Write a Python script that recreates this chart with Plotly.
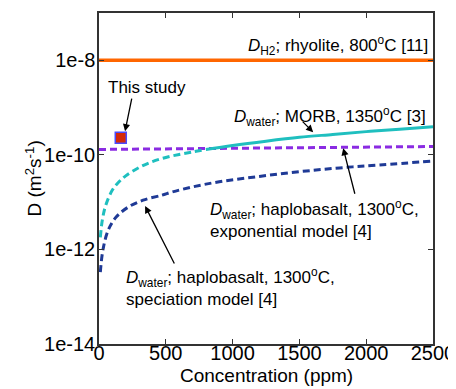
import plotly.graph_objects as go

# ---- data ----
h2_conc = [0, 2500]
h2_D = [1.0e-8, 1.0e-8]

morb_conc_dash = [10, 25, 50, 100, 150, 200, 300, 400, 500, 600, 700, 800]
morb_D_dash = [1.8e-12, 4.2e-12, 8.5e-12, 1.8e-11, 2.7e-11, 3.6e-11, 5.4e-11, 7.2e-11,
               8.8e-11, 1.02e-10, 1.15e-10, 1.3e-10]
morb_conc_solid = [800, 1000, 1250, 1500, 1750, 2000, 2250, 2500]
morb_D_solid = [1.3e-10, 1.58e-10, 1.95e-10, 2.35e-10, 2.7e-10, 3.1e-10, 3.5e-10, 3.95e-10]

expo_conc = [0, 500, 1000, 1500, 2000, 2500]
expo_D = [1.30e-10, 1.34e-10, 1.38e-10, 1.42e-10, 1.46e-10, 1.50e-10]

spec_conc = [10, 30, 70, 130, 220, 330, 470, 550, 700, 900, 1200, 1500, 1800, 2100, 2500]
spec_D = [3.3e-13, 1.0e-12, 2.6e-12, 4.9e-12, 7.9e-12, 1.1e-11, 1.4e-11, 1.65e-11,
          2.1e-11, 2.7e-11, 3.5e-11, 4.4e-11, 5.3e-11, 6.1e-11, 7.4e-11]

study_conc = [163]
study_D = [2.3e-10]

x_ticks = [0, 500, 1000, 1500, 2000, 2500]
y_tickvals = [1e-14, 1e-12, 1e-10, 1e-8]
y_ticktext = ["1e-14", "1e-12", "1e-10", "1e-8"]

FONT = "Arial, Liberation Sans, sans-serif"

fig = go.Figure()
fig.add_trace(go.Scatter(x=h2_conc, y=h2_D, mode="lines",
                         line=dict(color="#ff6600", width=3.5)))
fig.add_trace(go.Scatter(x=expo_conc, y=expo_D, mode="lines",
                         line=dict(color="#8a2be2", width=3, dash="7px,4px")))
fig.add_trace(go.Scatter(x=morb_conc_dash, y=morb_D_dash, mode="lines",
                         line=dict(color="#1fbfbf", width=3, dash="7px,4px", shape="spline")))
fig.add_trace(go.Scatter(x=morb_conc_solid, y=morb_D_solid, mode="lines",
                         line=dict(color="#1fbfbf", width=3, shape="spline")))
fig.add_trace(go.Scatter(x=spec_conc, y=spec_D, mode="lines",
                         line=dict(color="#1f3a96", width=3, dash="7px,4px", shape="spline")))
fig.add_trace(go.Scatter(x=study_conc, y=study_D, mode="markers",
                         marker=dict(symbol="square", size=11, color="#d42a0a",
                                     line=dict(color="#4a4aff", width=1.5))))

ann_font = dict(family=FONT, size=17, color="black")
arrow = dict(showarrow=True, arrowhead=2, arrowsize=1.1, arrowwidth=1.3,
             arrowcolor="black", axref="pixel", ayref="pixel")

annotations = [
    dict(x=2479, y=-7.68, xref="x", yref="y", xanchor="right", yanchor="middle",
         text="<i>D</i><sub>H2</sub>; rhyolite, 800<sup>o</sup>C [11]", showarrow=False, font=ann_font),
    dict(x=2464, y=-9.18, xref="x", yref="y", xanchor="right", yanchor="middle",
         text="<i>D</i><sub>water</sub>; MORB, 1350<sup>o</sup>C [3]", showarrow=False, font=ann_font),
    dict(x=816, y=-11.36, xref="x", yref="y", xanchor="left", yanchor="middle", align="left",
         text="<i>D</i><sub>water</sub>; haplobasalt, 1300<sup>o</sup>C,<br>exponential model [4]",
         showarrow=False, font=ann_font),
    dict(x=187, y=-12.80, xref="x", yref="y", xanchor="left", yanchor="middle", align="left",
         text="<i>D</i><sub>water</sub>; haplobasalt, 1300<sup>o</sup>C,<br>speciation model [4]",
         showarrow=False, font=ann_font),
    dict(x=52, y=-8.57, xref="x", yref="y", xanchor="left", yanchor="middle",
         text="This study", showarrow=False, font=ann_font),
    # arrows
    dict(x=195, y=-9.50, xref="x", yref="y", ax=7, ay=-34, text="", **arrow),
    dict(x=1603, y=-9.52, xref="x", yref="y", ax=-12, ay=-12, text="", **arrow),
    dict(x=1828, y=-9.86, xref="x", yref="y", ax=12, ay=47, text="", **arrow),
    dict(x=345, y=-11.08, xref="x", yref="y", ax=30, ay=59, text="", **arrow),
    # axis titles
    dict(x=0.5, y=0, xref="paper", yref="paper", xanchor="center", yanchor="middle",
         yshift=-31, text="Concentration (ppm)", showarrow=False,
         font=dict(family=FONT, size=19, color="black")),
    dict(x=0, y=0.5, xref="paper", yref="paper", xanchor="center", yanchor="middle",
         xshift=-66, textangle=-90, text="D (m<sup>2</sup>s<sup>-1</sup>)", showarrow=False,
         font=dict(family=FONT, size=19, color="black")),
]

# page body adds an 8px offset; figure sized so the plot lands at the reference pixels
fig.update_layout(
    width=448, height=381,
    margin=dict(l=91, r=23, t=5, b=45, autoexpand=False),
    paper_bgcolor="white", plot_bgcolor="white",
    showlegend=False,
    font=dict(family=FONT, size=20, color="black"),
    annotations=annotations,
)
fig.update_xaxes(range=[0, 2500], tickvals=x_ticks, ticks="inside", ticklen=5,
                 tickcolor="#333", showline=True, linecolor="#333", linewidth=1.5,
                 mirror="ticks", showgrid=False, zeroline=False, automargin=False,
                 tickfont=dict(size=20), ticklabelstandoff=-10)
fig.update_yaxes(type="log", range=[-14, -7], tickvals=y_tickvals, ticktext=y_ticktext,
                 ticks="inside", ticklen=5, tickcolor="#333", showline=True,
                 linecolor="#333", linewidth=1.5, mirror="ticks", showgrid=False,
                 zeroline=False, automargin=False, tickfont=dict(size=20), ticklabelstandoff=-2)

fig.write_html("out.html")
